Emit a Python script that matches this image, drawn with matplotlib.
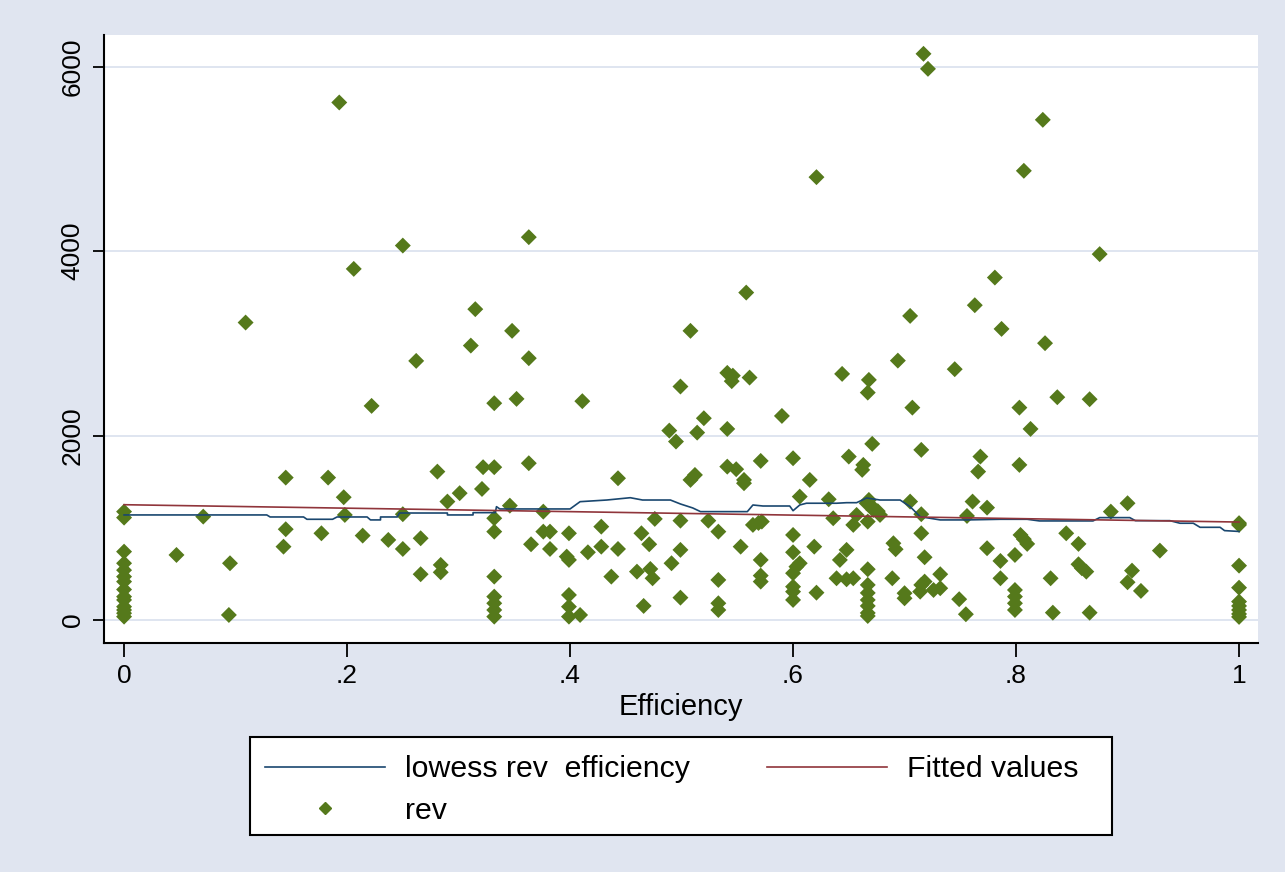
import matplotlib
matplotlib.use("Agg")
import matplotlib.pyplot as plt
from matplotlib.lines import Line2D
from matplotlib.patches import Rectangle
import numpy as np

plt.rcParams['font.family'] = ['Liberation Sans', 'DejaVu Sans']

# ---- data: scatter (efficiency, rev) ----
eff = [
    0, 0, 0, 0, 0, 0, 0, 0, 0, 0, 0, 0, 0, 0,
    0.047, 0.071, 0.094, 0.095, 0.109, 0.143, 0.145, 0.145, 0.177, 0.183,
    0.193, 0.197, 0.198, 0.206, 0.214, 0.222, 0.237, 0.250, 0.250, 0.250,
    0.262, 0.266, 0.266, 0.281, 0.284, 0.284, 0.290, 0.301, 0.311, 0.315,
    0.321, 0.322,
    0.332, 0.332, 0.332, 0.332, 0.332, 0.332, 0.332, 0.332, 0.332,
    0.346, 0.348, 0.352, 0.363, 0.363, 0.363, 0.365, 0.376, 0.376,
    0.382, 0.382, 0.397, 0.399, 0.399, 0.399, 0.399, 0.399, 0.409, 0.411,
    0.416, 0.428, 0.428, 0.437, 0.443, 0.443, 0.460, 0.464, 0.466, 0.471,
    0.472, 0.474, 0.476, 0.489, 0.491, 0.495, 0.499, 0.499, 0.499, 0.499,
    0.508, 0.508, 0.512, 0.514, 0.520, 0.524, 0.533, 0.533, 0.533, 0.533,
    0.541, 0.541, 0.541, 0.545, 0.546, 0.549, 0.553, 0.556, 0.556, 0.558,
    0.561, 0.564, 0.569, 0.571, 0.571, 0.571, 0.571, 0.572, 0.590,
    0.600, 0.600, 0.600, 0.600, 0.600, 0.600, 0.600, 0.603, 0.606, 0.606,
    0.615, 0.619, 0.621, 0.621, 0.632, 0.636, 0.639, 0.642, 0.644, 0.648,
    0.648, 0.650, 0.654, 0.654, 0.657, 0.662, 0.663, 0.666,
    0.667, 0.667, 0.667, 0.667, 0.667, 0.667, 0.667, 0.667, 0.667,
    0.668, 0.668, 0.671, 0.671, 0.672, 0.676, 0.678, 0.689, 0.690, 0.692,
    0.694, 0.700, 0.700, 0.705, 0.705, 0.707, 0.714, 0.715, 0.715, 0.715,
    0.715, 0.717, 0.718, 0.718, 0.721, 0.726, 0.732, 0.732, 0.745, 0.749,
    0.755, 0.756, 0.761, 0.763, 0.766, 0.768, 0.774, 0.774, 0.781, 0.786,
    0.786, 0.787, 0.799, 0.799, 0.799, 0.799, 0.799, 0.803, 0.803, 0.804,
    0.807, 0.807, 0.810, 0.813, 0.824, 0.826, 0.831, 0.833, 0.837, 0.845,
    0.856, 0.856, 0.859, 0.863, 0.866, 0.866, 0.875, 0.885, 0.900, 0.900,
    0.904, 0.912, 0.929,
    1.0, 1.0, 1.0, 1.0, 1.0, 1.0, 1.0, 1.0, 1.0,
]
rev = [
    1175, 1110, 741, 615, 540, 470, 416, 330, 253, 217, 144, 108, 73, 36,
    705, 1121, 54, 615, 3226, 795, 984, 1544, 940, 1544,
    5613, 1331, 1139, 3808, 915, 2322, 868, 4061, 1147, 770,
    2810, 886, 496, 1609, 597, 517, 1284, 1375, 2976, 3371,
    1421, 1657,
    2351, 1657, 1103, 958, 470, 253, 181, 108, 36,
    1240, 3136, 2398, 4152, 2839, 1700, 821, 1175, 958,
    958, 770, 687, 940, 651, 271, 144, 36, 54, 2373,
    734, 1012, 795, 470, 1537, 770, 524, 940, 152, 821,
    553, 452, 1096, 2054, 615, 1935, 2532, 1077, 760, 242,
    3136, 1519, 1573, 2032, 2188, 1077, 958, 434, 181, 108,
    2680, 2072, 1663, 2590, 2650, 1635, 795, 1519, 1483, 3551,
    2629, 1031, 1052, 1725, 651, 481, 416, 1067, 2213,
    1754, 922, 734, 507, 361, 307, 217, 578, 1338, 615,
    1519, 795, 4803, 296, 1309, 1103, 452, 651, 2669, 760,
    441, 1772, 1031, 452, 1139, 1628, 1682, 1266,
    2466, 1067, 550, 380, 293, 217, 152, 76, 43,
    2604, 1302, 1910, 1229, 1193, 1180, 1139, 452, 832, 767,
    2813, 290, 235, 3298, 1284, 2303, 307, 1845, 1147, 940,
    380, 6141, 416, 680, 5978, 325, 344, 496, 2720, 225,
    62, 1128, 1284, 3414, 1609, 1772, 1218, 778, 3714, 640,
    452, 3157, 705, 325, 253, 181, 108, 2303, 1682, 922,
    4872, 876, 825, 2072, 5425, 3002, 452, 79, 2416, 940,
    825, 604, 561, 524, 2394, 79, 3968, 1175, 1266, 409,
    535, 315, 752,
    1050, 1031, 589, 350, 199, 152, 108, 65, 33,
]

# ---- lowess curve ----
low_x = [0.000, 0.128, 0.131, 0.161, 0.164, 0.187, 0.191, 0.218, 0.221, 0.230,
         0.230, 0.245, 0.247, 0.290, 0.290, 0.313, 0.313, 0.333, 0.334, 0.337,
         0.400, 0.409, 0.433, 0.454, 0.465, 0.490, 0.499, 0.510, 0.517, 0.559,
         0.564, 0.573, 0.597, 0.600, 0.606, 0.612, 0.639, 0.648, 0.657, 0.666,
         0.678, 0.696, 0.705, 0.714, 0.732, 0.756, 0.786, 0.810, 0.821, 0.869,
         0.875, 0.902, 0.907, 0.938, 0.947, 0.959, 0.965, 0.983, 0.987, 1.000]
low_y = [1139, 1139, 1117, 1117, 1092, 1092, 1117, 1117, 1085, 1085,
         1117, 1117, 1160, 1160, 1139, 1139, 1164, 1164, 1229, 1204,
         1204, 1283, 1301, 1326, 1301, 1301, 1258, 1215, 1175, 1175,
         1247, 1236, 1236, 1185, 1247, 1266, 1266, 1272, 1272, 1323,
         1301, 1301, 1229, 1120, 1085, 1085, 1092, 1092, 1074, 1074,
         1110, 1110, 1077, 1077, 1049, 1049, 1005, 1005, 969, 960]

# ---- linear fit (Fitted values) ----
fit_x = [0.0, 1.0]
fit_y = [1250, 1062]

y_ticks = [0, 2000, 4000, 6000]
x_ticks = [0, 0.2, 0.4, 0.6, 0.8, 1.0]
x_ticklabels = ['0', '.2', '.4', '.6', '.8', '1']

BG = '#e0e5f0'
GREEN = '#55791b'
BLUE = '#1a476f'
RED = '#90353b'

W, H = 1285, 872
fig = plt.figure(figsize=(W / 100, H / 100), dpi=100, facecolor=BG)
ax = fig.add_axes([104/W, 1-643/H, (1258-104)/W, (643-35)/H])
ax.set_facecolor('white')

ax.set_xlim(-0.018, 1.017)
ax.set_ylim(-250, 6345)

ax.set_yticks(y_ticks)
ax.set_xticks(x_ticks)
ax.set_xticklabels(x_ticklabels)
ax.yaxis.grid(True, color='#dfe5f0', linewidth=1.4)
ax.set_axisbelow(True)

for s in ['top', 'right']:
    ax.spines[s].set_visible(False)
for s in ['left', 'bottom']:
    ax.spines[s].set_linewidth(1.5)
    ax.spines[s].set_color('black')

ax.tick_params(axis='y', direction='out', length=8, width=1.3, labelsize=19,
               pad=6, labelrotation=90)
ax.tick_params(axis='x', direction='out', length=10, width=1.3, labelsize=19, pad=5)
for lbl in ax.get_yticklabels():
    lbl.set_va('center')

ax.scatter(eff, rev, marker='D', s=66, color=GREEN, edgecolors='none', zorder=3)
ax.plot(low_x, low_y, color=BLUE, linewidth=1.2, zorder=4)
ax.plot(fit_x, fit_y, color=RED, linewidth=1.2, zorder=4)

ax.set_xlabel('Efficiency', fontsize=21, labelpad=4)

# legend frame drawn as a figure rectangle
fig.patches.append(Rectangle((250/W, 1-835/H), 862/W, 98/H, transform=fig.transFigure,
                             facecolor='white', edgecolor='black', linewidth=1.5,
                             zorder=1))

handles = [
    Line2D([], [], color=BLUE, linewidth=1.2),
    Line2D([], [], marker='D', color=GREEN, linestyle='none', markersize=6),
    Line2D([], [], color=RED, linewidth=1.2),
]
labels = ['lowess rev  efficiency', 'rev', 'Fitted values']
leg = fig.legend(handles, labels, ncol=2, loc='upper left',
                 bbox_to_anchor=(250/W, 1-740/H),
                 fontsize=21.8, frameon=False,
                 handlelength=3.96, handletextpad=0.66, columnspacing=2.55,
                 borderpad=0.5, labelspacing=0.45, borderaxespad=0)
leg.set_zorder(2)

fig.savefig('out.png', dpi=100, facecolor=BG)
